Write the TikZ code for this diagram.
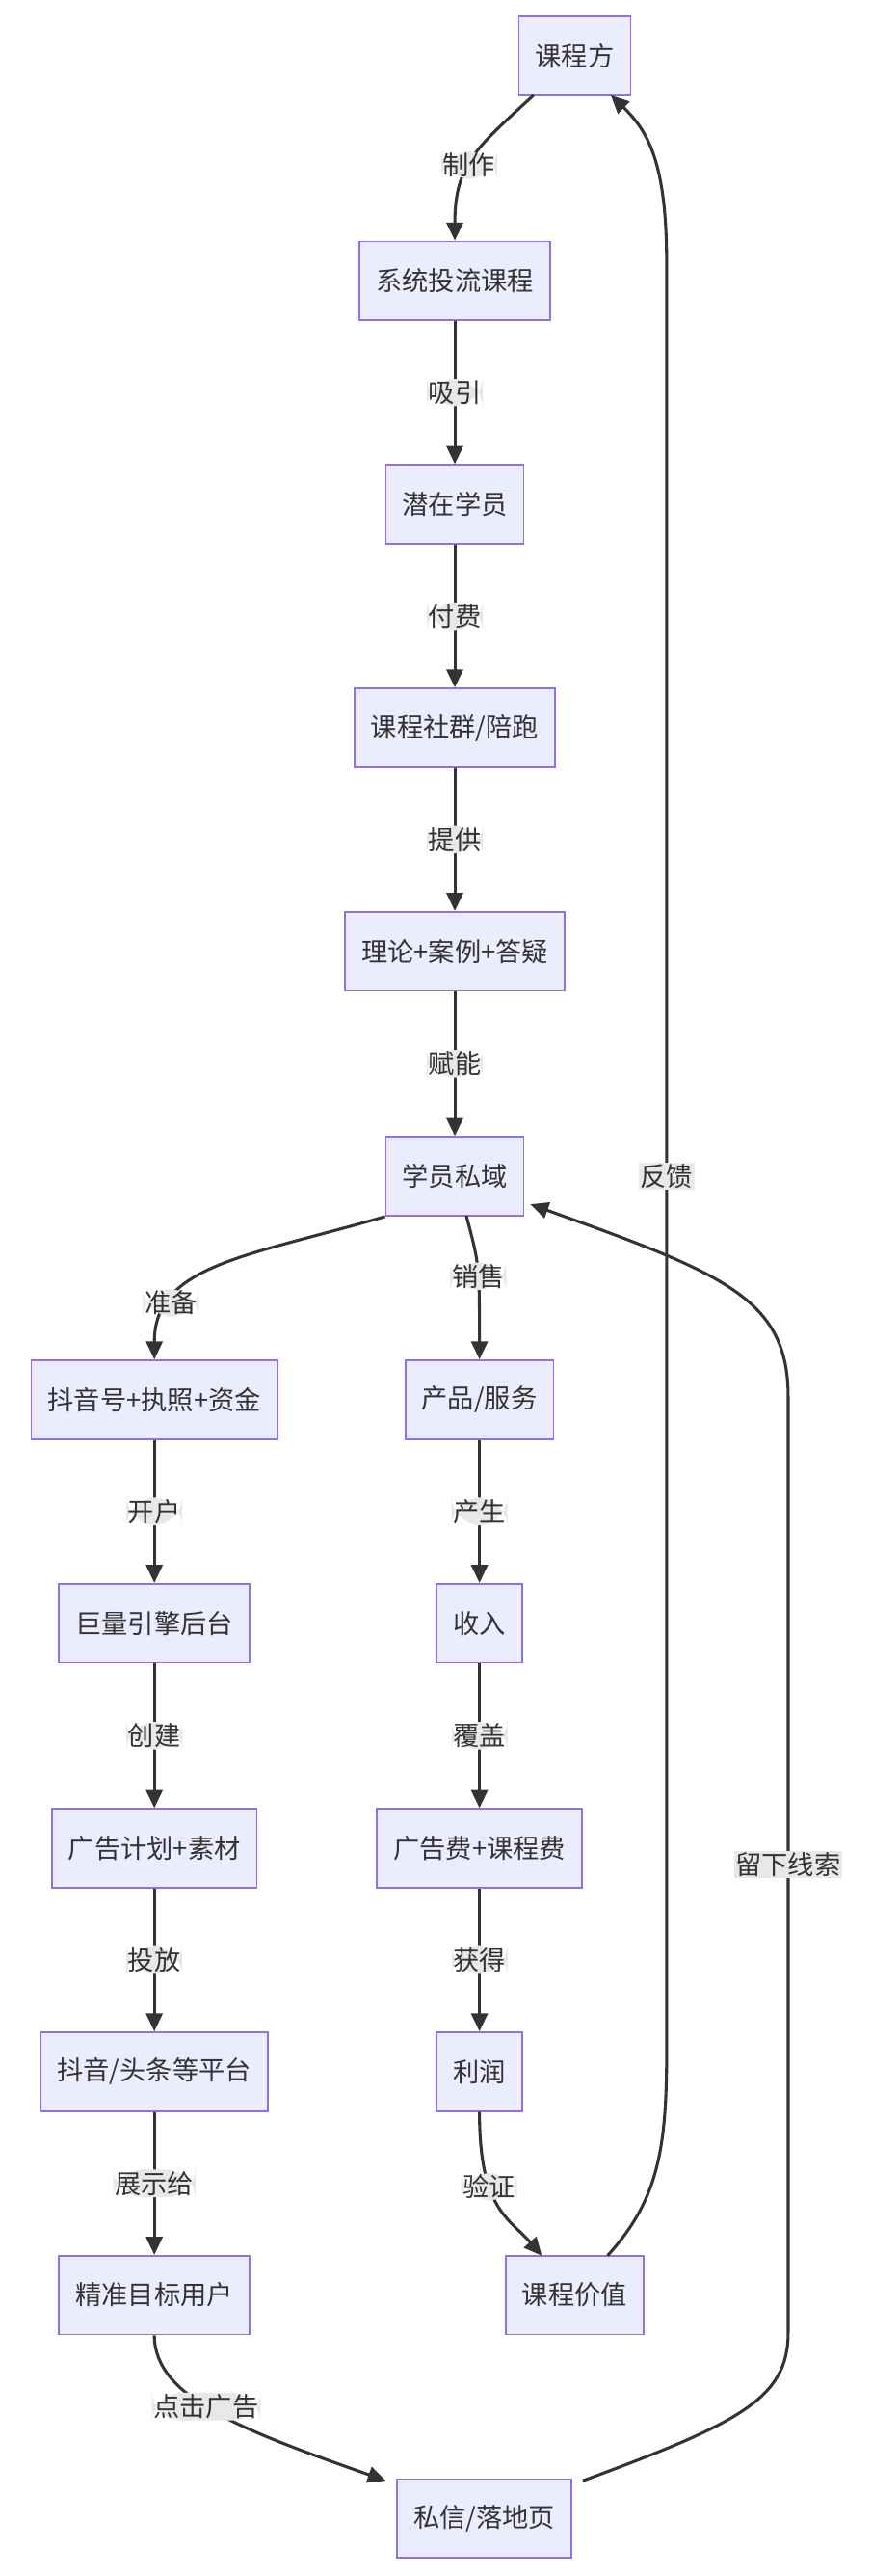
\documentclass[tikz,border=0pt]{standalone}
\usepackage{fontspec}
\setmainfont{Noto Sans CJK SC}
\usetikzlibrary{arrows.meta}
\definecolor{nfill}{HTML}{ECECFF}
\definecolor{nstroke}{HTML}{9370DB}
\definecolor{edge}{HTML}{333333}
\definecolor{lbg}{HTML}{E8E8E8}
\begin{document}
\begin{tikzpicture}[x=1pt,y=-1pt,
  box/.style={draw=nstroke,fill=nfill,line width=1pt,minimum height=48pt,inner xsep=10pt,font=\fontsize{16}{18}\selectfont,text=edge},
  e/.style={draw=edge,line width=1.8pt,-{Triangle[length=11pt,width=10pt]},rounded corners=18pt},
  lab/.style={fill=lbg,inner sep=1pt,font=\fontsize{16}{18}\selectfont,text=edge}]
\useasboundingbox (0,0) rectangle (531,1568);
\node[box] (a) at (350,34) {课程方};
\node[box] (b) at (277,171) {系统投流课程};
\node[box] (c) at (277,307) {潜在学员};
\node[box] (d) at (277,443) {课程社群/陪跑};
\node[box] (f) at (277,579) {理论+案例+答疑};
\node[box] (g) at (277,716) {学员私域};
\node[box] (h) at (94,852) {抖音号+执照+资金};
\node[box] (p) at (292,852) {产品/服务};
\node[box] (i) at (94,988) {巨量引擎后台};
\node[box] (q) at (292,988) {收入};
\node[box] (j) at (94,1125) {广告计划+素材};
\node[box] (r) at (292,1125) {广告费+课程费};
\node[box] (k) at (94,1261) {抖音/头条等平台};
\node[box] (s) at (292,1261) {利润};
\node[box] (l) at (94,1397) {精准目标用户};
\node[box] (t) at (350,1397) {课程价值};
\node[box] (m) at (295,1533) {私信/落地页};

\draw[e] (325,58) .. controls (290,90) and (277,100) .. (b.north) node[lab,pos=0.55]{制作};
\draw[e] (b) -- (c) node[lab,midway]{吸引};
\draw[e] (c) -- (d) node[lab,midway]{付费};
\draw[e] (d) -- (f) node[lab,midway]{提供};
\draw[e] (f) -- (g) node[lab,midway]{赋能};
\draw[e] (g.south west) .. controls (150,765) and (94,770) .. (h.north) node[lab,pos=0.75]{准备};
\draw[e] (284,740) .. controls (292,770) .. (p.north) node[lab,pos=0.55]{销售};
\draw[e] (h) -- (i) node[lab,midway]{开户};
\draw[e] (i) -- (j) node[lab,midway]{创建};
\draw[e] (j) -- (k) node[lab,midway]{投放};
\draw[e] (k) -- (l) node[lab,midway]{展示给};
\draw[e] (p) -- (q) node[lab,midway]{产生};
\draw[e] (q) -- (r) node[lab,midway]{覆盖};
\draw[e] (r) -- (s) node[lab,midway]{获得};
\draw[e] (s.south) .. controls (292,1345) and (310,1350) .. (330,1373) node[lab,pos=0.35]{验证};
\draw[e] (l.south) .. controls (94,1460) and (150,1480) .. (235,1510) node[lab,pos=0.45]{点击广告};
\coordinate (fb1) at (406,1250);
\coordinate (fb2) at (406,160);
\draw[e,rounded corners=0pt] (370,1373) .. controls (400,1340) and (406,1310) .. (fb1) -- (fb2) node[lab,pos=0.49]{反馈} .. controls (406,100) and (395,80) .. (372,58);
\coordinate (ld1) at (480,1420);
\coordinate (ld2) at (480,850);
\draw[e,rounded corners=0pt] (355,1510) .. controls (450,1475) and (480,1460) .. (ld1) -- (ld2) node[lab,pos=0.5]{留下线索} .. controls (480,790) and (440,775) .. (323,733);
\end{tikzpicture}
\end{document}
